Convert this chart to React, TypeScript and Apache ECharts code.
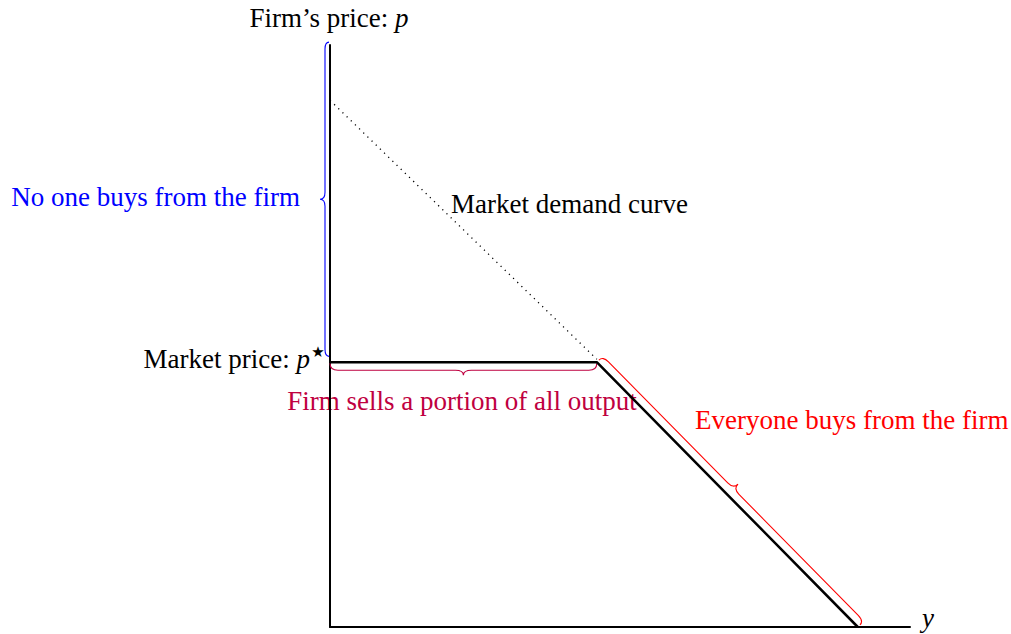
import React, { useEffect, useRef } from "react";
import * as echarts from "echarts";

// ---- data (abstract units: quantity y on x-axis, price p on y-axis) ----
const xMax = 10;
const yMax = 10;
const marketDemand: number[][] = [
  [0, 9.05],
  [4.6, 4.6],
];
const firmDemand: number[][] = [
  [0, 4.55],
  [4.6, 4.55],
  [9.1, 0],
];
// braces: [x1, y1, x2, y2]
const braceNoOne: number[][] = [[0, 10.05, 0, 4.65]];
const braceSells: number[][] = [[0, 4.55, 4.6, 4.55]];
const braceEveryone: number[][] = [[9.1, 0, 4.6, 4.55]];

const FONT = "'Liberation Serif', 'DejaVu Serif', serif";

function bracePath(
  p1: number[],
  p2: number[],
  r: number,
  s: number,
  t: number,
  c: number
): string {
  const dx = p2[0] - p1[0];
  const dy = p2[1] - p1[1];
  const L = Math.hypot(dx, dy);
  const d = [dx / L, dy / L];
  const n = [-d[1], d[0]];
  const P = (u: number, v: number) =>
    (p1[0] + u * d[0] + v * n[0]).toFixed(2) +
    " " +
    (p1[1] + u * d[1] + v * n[1]).toFixed(2);
  const m = L / 2;
  return (
    `M${P(0, r)} Q${P(0, s)} ${P(c, s)} L${P(m - c, s)} ` +
    `Q${P(m, s)} ${P(m, t)} Q${P(m, s)} ${P(m + c, s)} ` +
    `L${P(L - c, s)} Q${P(L, s)} ${P(L, r)}`
  );
}

function braceSeries(
  data: number[][],
  color: string,
  r: number,
  s: number,
  t: number,
  c: number
) {
  return {
    type: "custom",
    silent: true,
    clip: false,
    dimensions: ["x1", "y1", "x2", "y2"],
    encode: { x: [0, 2], y: [1, 3] },
    data,
    renderItem: (params: any, api: any) => {
      const p1 = api.coord([api.value(0), api.value(1)]);
      const p2 = api.coord([api.value(2), api.value(3)]);
      return {
        type: "path",
        shape: { pathData: bracePath(p1, p2, r, s, t, c) },
        style: { stroke: color, fill: "none", lineWidth: 1.1 },
      };
    },
  };
}

export default function App() {
  const ref = useRef<HTMLDivElement>(null);
  useEffect(() => {
    if (!ref.current) return;
    const chart = echarts.init(ref.current, undefined, { renderer: "svg" });
    const axisCommon = {
      type: "value" as const,
      min: 0,
      axisLine: { show: true, onZero: false, lineStyle: { color: "#000", width: 2 } },
      axisTick: { show: false },
      axisLabel: { show: false },
      splitLine: { show: false },
    };
    chart.setOption({
      animation: false,
      grid: { left: 330, top: 45, right: 101, bottom: 7 },
      xAxis: { ...axisCommon, max: xMax },
      yAxis: { ...axisCommon, max: yMax },
      series: [
        {
          type: "line",
          data: marketDemand,
          symbol: "none",
          silent: true,
          lineStyle: { color: "#000", width: 1.3, type: [1.2, 4.6] },
        },
        {
          type: "line",
          data: firmDemand,
          symbol: "none",
          silent: true,
          lineStyle: { color: "#000", width: 2.5 },
        },
        braceSeries(braceNoOne, "#0000ff", 1, 5, 10, 7),
        braceSeries(braceSells, "#bf0040", 1, 8, 13, 8),
        braceSeries(braceEveryone, "#ff0000", 3, 8.5, 15, 8),
      ],
      graphic: [
        {
          type: "text",
          x: 329,
          y: 18,
          style: {
            text: "{n|Firm’s price: }{i|p}",
            align: "center",
            verticalAlign: "middle",
            rich: {
              n: { fontFamily: FONT, fontSize: 27, fill: "#000" },
              i: { fontFamily: FONT, fontSize: 27, fontStyle: "italic", fill: "#000" },
            },
          },
        },
        {
          type: "text",
          x: 300,
          y: 197,
          style: {
            text: "No one buys from the firm",
            fontFamily: FONT,
            fontSize: 27,
            fill: "#0000ff",
            align: "right",
            verticalAlign: "middle",
          },
        },
        {
          type: "text",
          x: 451,
          y: 204,
          style: {
            text: "Market demand curve",
            fontFamily: FONT,
            fontSize: 27,
            fill: "#000",
            align: "left",
            verticalAlign: "middle",
          },
        },
        {
          type: "text",
          x: 310,
          y: 359,
          style: {
            text: "{n|Market price: }{i|p}",
            align: "right",
            verticalAlign: "middle",
            rich: {
              n: { fontFamily: FONT, fontSize: 27, fill: "#000" },
              i: { fontFamily: FONT, fontSize: 27, fontStyle: "italic", fill: "#000" },
            },
          },
        },
        {
          type: "text",
          x: 318,
          y: 352,
          style: {
            text: "★",
            fontFamily: "'DejaVu Sans', sans-serif",
            fontSize: 15,
            fill: "#000",
            align: "center",
            verticalAlign: "middle",
          },
        },
        {
          type: "text",
          x: 462,
          y: 401,
          style: {
            text: "Firm sells a portion of all output",
            fontFamily: FONT,
            fontSize: 27,
            fill: "#bf0040",
            align: "center",
            verticalAlign: "middle",
          },
        },
        {
          type: "text",
          x: 695,
          y: 420,
          style: {
            text: "Everyone buys from the firm",
            fontFamily: FONT,
            fontSize: 27,
            fill: "#ff0000",
            align: "left",
            verticalAlign: "middle",
          },
        },
        {
          type: "text",
          x: 922,
          y: 618,
          style: {
            text: "y",
            fontFamily: FONT,
            fontSize: 27,
            fontStyle: "italic",
            fill: "#000",
            align: "left",
            verticalAlign: "middle",
          },
        },
      ],
    });
    return () => chart.dispose();
  }, []);
  return (
    <div
      ref={ref}
      style={{ position: "fixed", left: 0, top: 0, width: 1011, height: 634, background: "#fff" }}
    />
  );
}
